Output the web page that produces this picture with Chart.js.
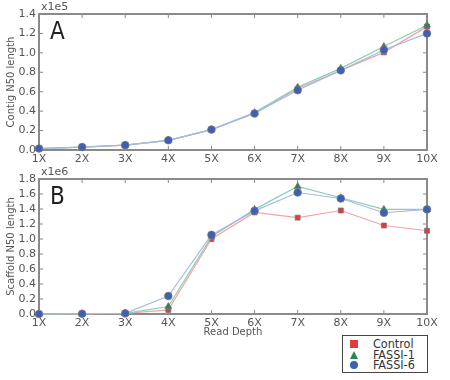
<!DOCTYPE html>
<html><head><meta charset="utf-8">
<script src="https://cdn.jsdelivr.net/npm/chart.js@4/dist/chart.umd.min.js"></script>
<style>
html,body{margin:0;padding:0;background:#fff;}
#wrap{position:relative;width:450px;height:380px;overflow:hidden;}
canvas{position:absolute;left:0;}
#legend{position:absolute;left:342px;top:335px;width:84px;height:36px;border:1px solid #444;background:#fff;font-family:'DejaVu Sans Condensed','DejaVu Sans',sans-serif;font-size:12.5px;color:#333;}
.row{position:absolute;left:0;height:10px;line-height:10px;width:84px;}
.row span.t{position:absolute;left:30px;top:0;}
.mk{position:absolute;left:7px;}
</style></head>
<body><div id="wrap">
<canvas id="ca" width="450" height="165" style="top:0"></canvas>
<canvas id="cb" width="450" height="175" style="top:165px"></canvas>
<div id="legend"></div>
</div>
<script>
const depthLabels = ['1X','2X','3X','4X','5X','6X','7X','8X','9X','10X'];
const seriesNames = ['Control','FASSI-1','FASSI-6'];
// Contig N50 length (x1e5)
const contigControl = [0.015,0.03,0.05,0.10,0.21,0.38,0.63,0.82,1.005,1.27];
const contigFassi1  = [0.015,0.03,0.05,0.10,0.21,0.385,0.645,0.84,1.065,1.285];
const contigFassi6  = [0.015,0.03,0.05,0.10,0.21,0.375,0.615,0.82,1.03,1.20];
// Scaffold N50 length (x1e6)
const scaffoldControl = [0.0,0.003,0.008,0.055,1.00,1.355,1.285,1.38,1.18,1.11];
const scaffoldFassi1  = [0.0,0.003,0.008,0.10,1.03,1.395,1.70,1.55,1.395,1.395];
const scaffoldFassi6  = [0.0,0.003,0.008,0.24,1.055,1.375,1.62,1.54,1.35,1.395];

const markerColors = ['#e23b3b','#23875a','#3d5fb5'];
const lineColors = ['#f4a3a3','#86d1b0','#a9b8e6'];
const shapes = ['rect','triangle','circle'];
const radii = [3.5,4,3.8];
const tickFont = {family:"'DejaVu Sans', sans-serif", size:11};

function makeDatasets(arrs){
  return arrs.map((d,i)=>({
    label: seriesNames[i], data: d, order: 2 - i,
    borderColor: lineColors[i], borderWidth: 1.2,
    backgroundColor: markerColors[i],
    pointBackgroundColor: markerColors[i], pointBorderColor: '#777', pointBorderWidth: 0.8,
    pointStyle: shapes[i], pointRadius: radii[i], tension: 0, clip: false
  }));
}

const framePlugin = {
  id:'frame',
  beforeDatasetsDraw(chart, args, opts){
    const {ctx, chartArea:a} = chart;
    const xs = chart.scales.x, ys = chart.scales.y;
    ctx.save();
    ctx.strokeStyle = '#888'; ctx.lineWidth = 1;
    ctx.beginPath();
    xs.ticks.forEach((t,i)=>{ const p = xs.getPixelForTick(i);
      ctx.moveTo(p,a.bottom); ctx.lineTo(p,a.bottom-4);
      ctx.moveTo(p,a.top); ctx.lineTo(p,a.top+4); });
    ys.ticks.forEach((t,i)=>{ const p = ys.getPixelForTick(i);
      ctx.moveTo(a.left,p); ctx.lineTo(a.left+4,p);
      ctx.moveTo(a.right,p); ctx.lineTo(a.right-4,p); });
    ctx.stroke();
    ctx.strokeStyle = '#8a8a8a'; ctx.lineWidth = 2;
    ctx.strokeRect(a.left, a.top, a.right-a.left, a.bottom-a.top);
    ctx.fillStyle = '#555';
    ctx.font = "11px 'DejaVu Sans', sans-serif";
    ctx.textBaseline = 'bottom'; ctx.textAlign = 'left';
    ctx.fillText(opts.mult, a.left+2, a.top-1);
    ctx.fillStyle = '#222';
    ctx.font = "24px 'DejaVu Sans Condensed', 'DejaVu Sans', sans-serif";
    ctx.textBaseline = 'top';
    ctx.fillText(opts.letter, a.left+11, a.top+7);
    ctx.restore();
  }
};

function makeChart(id, arrs, maxY, yTitle, xTitle, mult, letter, xHeight){
  return new Chart(document.getElementById(id), {
    type:'line',
    data:{labels: depthLabels, datasets: makeDatasets(arrs)},
    plugins:[framePlugin],
    options:{
      responsive:false, animation:false, devicePixelRatio:1,
      layout:{padding:{top:14,right:23,left:0,bottom:0}},
      plugins:{legend:{display:false}, tooltip:{enabled:false}, frame:{mult, letter}},
      scales:{
        x:{offset:false, grid:{display:false, drawTicks:false}, border:{display:false},
           ticks:{font:tickFont, color:'#555', padding:3, maxRotation:0, autoSkip:false},
           title:{display:!!xTitle, text:xTitle, font:{family:"'DejaVu Sans', sans-serif", size:10}, color:'#555', padding:{top:0,bottom:2}},
           afterFit(s){ s.height = xHeight; }},
        y:{min:0, max:maxY, grid:{display:false, drawTicks:false}, border:{display:false},
           ticks:{stepSize:0.2, autoSkip:false, font:tickFont, color:'#555', padding:3, callback:v=>Number(v).toFixed(1)},
           title:{display:true, text:yTitle, font:{family:"'DejaVu Sans', sans-serif", size:10}, color:'#555', padding:{top:5,bottom:0}},
           afterFit(s){ s.width = 39; }}
      }
    }
  });
}

makeChart('ca', [contigControl, contigFassi1, contigFassi6], 1.4, 'Contig N50 length', '', 'x1e5', 'A', 15);
makeChart('cb', [scaffoldControl, scaffoldFassi1, scaffoldFassi6], 1.8, 'Scaffold N50 length', 'Read Depth', 'x1e6', 'B', 26);

// legend
const leg = document.getElementById('legend');
seriesNames.forEach((n,i)=>{
  const r = document.createElement('div'); r.className='row'; r.style.top = (3+i*10.5)+'px';
  const m = document.createElement('div'); m.className='mk';
  if(i===0){ Object.assign(m.style,{width:'8px',height:'8px',top:'1px',background:markerColors[0]}); }
  else if(i===1){ Object.assign(m.style,{width:'0',height:'0',top:'1px',borderLeft:'4.5px solid transparent',borderRight:'4.5px solid transparent',borderBottom:'8px solid '+markerColors[1]}); }
  else { Object.assign(m.style,{width:'8px',height:'8px',top:'1px',borderRadius:'50%',background:markerColors[2]}); }
  const t = document.createElement('span'); t.className='t'; t.textContent = n;
  r.appendChild(m); r.appendChild(t); leg.appendChild(r);
});
</script>
</body></html>
